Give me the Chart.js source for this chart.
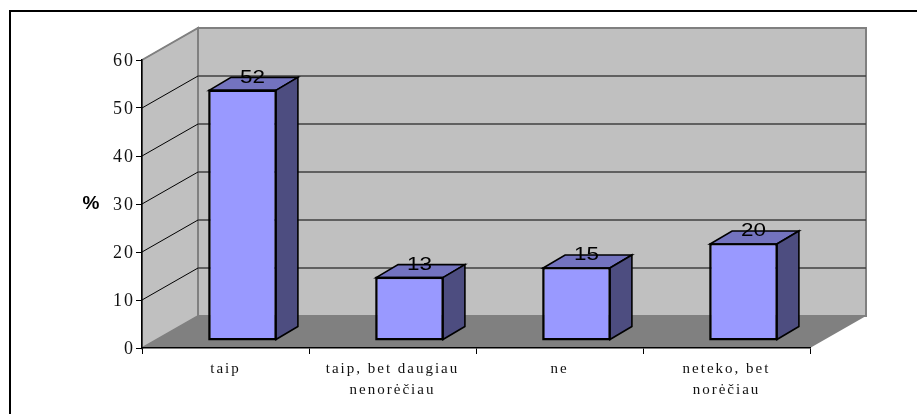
<!DOCTYPE html>
<html>
<head>
<meta charset="utf-8">
<title>Chart</title>
<script src="https://cdn.jsdelivr.net/npm/chart.js@4"></script>
<style>
    html, body { margin: 0; padding: 0; background: #fff; overflow: hidden; }
    canvas { display: block; }
</style>
</head>
<body>
<canvas id="surveyChart" width="917" height="414"></canvas>
<script>
// Data
const categories = ['taip', ['taip, bet daugiau', 'nenorėčiau'], 'ne', ['neteko, bet', 'norėčiau']];
const percents = [52, 13, 15, 20];
const axisTitle = '%';

// 3D look: depth of the box and of the bars
const boxDepth = { x: 56, y: -32 };
const barShift = { x: 17, y: -8 };
const barDepth = { x: 22, y: -13 };

function poly(ctx, pts, fill, stroke, lineWidth) {
    ctx.beginPath();
    pts.forEach(function(p, i) {
        if (i === 0) ctx.moveTo(p[0], p[1]);
        else ctx.lineTo(p[0], p[1]);
    });
    ctx.closePath();
    if (fill) {
        ctx.fillStyle = fill;
        ctx.fill();
    }
    if (stroke) {
        ctx.strokeStyle = stroke;
        ctx.lineWidth = lineWidth;
        ctx.lineJoin = 'miter';
        ctx.stroke();
    }
}

const box3d = {
    id: 'box3d',
    beforeDraw: function(chart) {
        const ctx = chart.ctx;
        const a = chart.chartArea;
        const dx = boxDepth.x, dy = boxDepth.y;

        // frame of the picture, only left and top are visible
        ctx.save();
        ctx.strokeStyle = '#000';
        ctx.lineWidth = 2;
        ctx.beginPath();
        ctx.moveTo(10, chart.height);
        ctx.lineTo(10, 11);
        ctx.lineTo(chart.width, 11);
        ctx.stroke();

        // walls and floor
        poly(ctx, [[a.left + dx, a.top + dy], [a.right + dx, a.top + dy], [a.right + dx, a.bottom + dy], [a.left + dx, a.bottom + dy]], '#c0c0c0', '#808080', 2);
        poly(ctx, [[a.left, a.top], [a.left + dx, a.top + dy], [a.left + dx, a.bottom + dy], [a.left, a.bottom]], '#c0c0c0', '#808080', 2);

        // grid lines on both walls
        chart.scales.y.ticks.forEach(function(t) {
            if (t.value === 0) return;
            const y = Math.round(chart.scales.y.getPixelForValue(t.value));
            if (t.value < 60) {
                ctx.strokeStyle = '#404040';
                ctx.lineWidth = 1.5;
                ctx.beginPath();
                ctx.moveTo(a.left + dx, y + dy);
                ctx.lineTo(a.right + dx, y + dy);
                ctx.stroke();
            }
            ctx.strokeStyle = t.value < 60 ? '#000' : '#808080';
            ctx.lineWidth = 1;
            ctx.beginPath();
            ctx.moveTo(a.left, y);
            ctx.lineTo(a.left + dx, y + dy);
            ctx.stroke();
        });

        poly(ctx, [[a.left, a.bottom], [a.right, a.bottom], [a.right + dx, a.bottom + dy], [a.left + dx, a.bottom + dy]], '#808080');
        ctx.restore();

        // wide tracking of the tick labels, stays on for the scale layers
        ctx.letterSpacing = '2px';
    },
    beforeDatasetsDraw: function(chart) {
        chart.ctx.save();
        chart.ctx.letterSpacing = '0px';
        chart.ctx.translate(barShift.x, barShift.y);
    },
    afterDatasetsDraw: function(chart) {
        const ctx = chart.ctx;
        const dx = barDepth.x, dy = barDepth.y;
        chart.getDatasetMeta(0).data.forEach(function(bar, i) {
            const l = bar.x - bar.width / 2;
            const r = bar.x + bar.width / 2;
            poly(ctx, [[l, bar.y], [r, bar.y], [r + dx, bar.y + dy], [l + dx, bar.y + dy]], '#7373bf', '#000', 1.6);
            poly(ctx, [[r, bar.y], [r + dx, bar.y + dy], [r + dx, bar.base + dy], [r, bar.base]], '#4d4d80', '#000', 1.6);
            poly(ctx, [[l, bar.y], [r, bar.y], [r, bar.base], [l, bar.base]], null, '#000', 1.6);

            // value label sits on the back edge of the top face
            ctx.save();
            ctx.translate(bar.x + 10, bar.y - 13);
            ctx.scale(1.18, 1);
            ctx.font = '19px "Liberation Sans"';
            ctx.fillStyle = '#000';
            ctx.textAlign = 'center';
            ctx.textBaseline = 'middle';
            ctx.fillText(String(percents[i]), 0, 0);
            ctx.restore();
        });
        ctx.restore();

        // axis title stays horizontal, the built-in one would be rotated
        ctx.save();
        ctx.letterSpacing = '0px';
        ctx.font = 'bold 19px "Liberation Sans"';
        ctx.fillStyle = '#000';
        ctx.textAlign = 'center';
        ctx.textBaseline = 'middle';
        ctx.fillText(axisTitle, 91, (chart.chartArea.top + chart.chartArea.bottom) / 2);
        ctx.restore();
    }
};

new Chart(document.getElementById('surveyChart'), {
    type: 'bar',
    data: {
        labels: categories,
        datasets: [{
            data: percents,
            backgroundColor: '#9999ff',
            borderColor: '#000',
            borderWidth: 1.6,
            borderSkipped: false,
            barPercentage: 0.4,
            categoryPercentage: 1
        }]
    },
    options: {
        responsive: false,
        animation: false,
        layout: { padding: { left: 0, right: 107, top: 60, bottom: 0 } },
        plugins: {
            legend: { display: false },
            tooltip: { enabled: false }
        },
        scales: {
            x: {
                afterFit: function(scale) { scale.height = 66; },
                grid: { drawOnChartArea: false, color: '#000', tickLength: 6, offset: true },
                border: { color: '#000', width: 1.5 },
                ticks: {
                    color: '#111',
                    maxRotation: 0,
                    autoSkip: false,
                    padding: 5,
                    font: { family: 'Liberation Serif', size: 15, lineHeight: 1.4 }
                }
            },
            y: {
                min: 0,
                max: 60,
                afterFit: function(scale) { scale.width = 142; },
                grid: { drawOnChartArea: false, color: '#000', tickLength: 6 },
                border: { color: '#000', width: 1.5 },
                ticks: {
                    stepSize: 10,
                    color: '#111',
                    padding: 1,
                    labelOffset: 1.5,
                    font: { family: 'Liberation Serif', size: 18 }
                }
            }
        }
    },
    plugins: [box3d]
});
</script>
</body>
</html>
